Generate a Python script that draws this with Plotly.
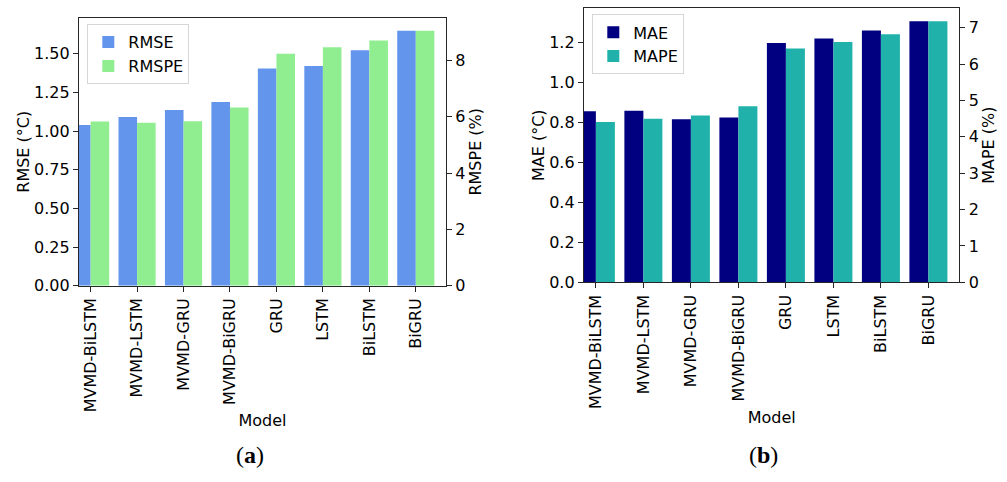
import plotly.graph_objects as go

models = ["MVMD-BiLSTM", "MVMD-LSTM", "MVMD-GRU", "MVMD-BiGRU", "GRU", "LSTM", "BiLSTM", "BiGRU"]
rmse = [1.039, 1.092, 1.137, 1.188, 1.405, 1.422, 1.523, 1.650]
rmspe = [5.83, 5.79, 5.84, 6.33, 8.24, 8.47, 8.71, 9.06]
mae = [0.855, 0.858, 0.816, 0.824, 1.197, 1.220, 1.259, 1.306]
mape = [4.41, 4.50, 4.59, 4.84, 6.43, 6.61, 6.82, 7.18]

W, H = 1007, 482
FONT = "DejaVu Sans"
LINE = "#262626"

def px_x(a, b):
    return [a / W, b / W]

def px_y(top, bottom):
    return [1 - bottom / H, 1 - top / H]

fig = go.Figure()
BW = 0.4
fig.add_trace(go.Bar(x=models, y=rmse, name="RMSE", marker=dict(color="#6495ED", line=dict(width=0)),
                     offset=-BW, width=BW, xaxis="x", yaxis="y", legend="legend"))
fig.add_trace(go.Bar(x=models, y=rmspe, name="RMSPE", marker=dict(color="#90EE90", line=dict(width=0)),
                     offset=0, width=BW, xaxis="x", yaxis="y2", legend="legend"))
fig.add_trace(go.Bar(x=models, y=mae, name="MAE", marker=dict(color="#000080", line=dict(width=0)),
                     offset=-BW, width=BW, xaxis="x2", yaxis="y3", legend="legend2"))
fig.add_trace(go.Bar(x=models, y=mape, name="MAPE", marker=dict(color="#20B2AA", line=dict(width=0)),
                     offset=0, width=BW, xaxis="x2", yaxis="y4", legend="legend2"))

tickfont = dict(family=FONT, size=16, color="black")
common_x = dict(type="category", range=[-0.25, 7.65], tickangle=-90, showline=True, linecolor=LINE,
                linewidth=1.3, mirror=True, ticks="outside", ticklen=5, tickwidth=1.3, tickcolor=LINE,
                showgrid=False, zeroline=False, tickfont=tickfont,
                title=dict(text="Model", font=tickfont, standoff=3))
common_y = dict(showline=True, linecolor=LINE, linewidth=1.3, ticks="outside", ticklen=5, tickwidth=1.3,
                tickcolor=LINE, showgrid=False, zeroline=False, tickfont=tickfont)

fig.update_layout(
    width=W, height=H, margin=dict(l=0, r=0, t=0, b=0),
    paper_bgcolor="white", plot_bgcolor="white", barmode="overlay",
    font=dict(family=FONT, size=16, color="black"),
    xaxis=dict(common_x, domain=px_x(79, 446), anchor="y"),
    yaxis=dict(common_y, domain=px_y(18.3, 291.7), anchor="x", range=[0, max(rmse) * 1.05],
               dtick=0.25, tickformat=".2f", title=dict(text="RMSE (°C)", font=tickfont, standoff=0)),
    yaxis2=dict(common_y, overlaying="y", side="right", anchor="x", range=[0, max(rmspe) * 1.05],
                dtick=2, title=dict(text="RMSPE (%)", font=tickfont, standoff=0)),
    xaxis2=dict(common_x, domain=px_x(584, 959.3), anchor="y3"),
    yaxis3=dict(common_y, domain=px_y(8.3, 288.3), anchor="x2", range=[0, max(mae) * 1.05],
                dtick=0.2, tickformat=".1f", title=dict(text="MAE (°C)", font=tickfont, standoff=0)),
    yaxis4=dict(common_y, overlaying="y3", side="right", anchor="x2", range=[0, max(mape) * 1.05],
                dtick=1, title=dict(text="MAPE (%)", font=tickfont, standoff=2)),
    legend=dict(x=87.3 / W, y=1 - 24.7 / H, xanchor="left", yanchor="top", bgcolor="white",
                bordercolor="#d6d6d6", borderwidth=1, font=dict(family=FONT, size=16, color="black")),
    legend2=dict(x=592.3 / W, y=1 - 14.7 / H, xanchor="left", yanchor="top", bgcolor="white",
                 bordercolor="#d6d6d6", borderwidth=1, font=dict(family=FONT, size=16, color="black")),
    showlegend=True,
)

cap_font = dict(family="Liberation Serif", size=24, color="black")
fig.add_annotation(text="(<b>a</b>)", x=250 / W, y=1 - 465 / H, xref="paper", yref="paper",
                   showarrow=False, font=cap_font, xanchor="center", yanchor="middle")
fig.add_annotation(text="(<b>b</b>)", x=763 / W, y=1 - 465 / H, xref="paper", yref="paper",
                   showarrow=False, font=cap_font, xanchor="center", yanchor="middle")

fig.write_html("out.html", config={"displayModeBar": False},
               post_script="document.body.style.margin='0';")
